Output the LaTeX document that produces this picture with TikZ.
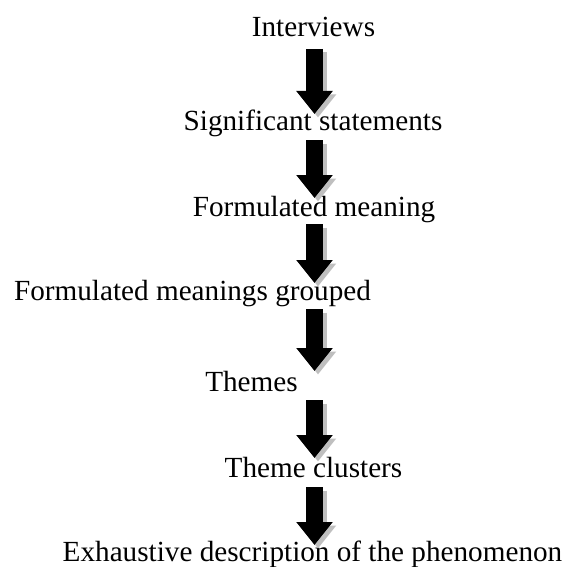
\documentclass[tikz,border=0pt]{standalone}
\usepackage{fontspec}
\setmainfont{Liberation Serif}
\usetikzlibrary{arrows.meta}
\tikzset{
  stage/.style={anchor=base, inner sep=0pt, font=\fontsize{29.2}{34}\selectfont},
  flowarrow/.style={line width=17pt, line cap=butt,
    -{Triangle[width=35pt,length=23pt]}},
  flowshadow/.style={flowarrow, draw=black!25},
}
\begin{document}
\begin{tikzpicture}[x=1pt,y=-1pt]
  \useasboundingbox (0,0) rectangle (565,567);
  % stage labels, positioned by baseline
  \node[stage] (t1) at (313.5,37)  {Interviews};
  \node[stage] (t2) at (313,131)   {Significant statements};
  \node[stage] (t3) at (314,216)   {Formulated meaning};
  \node[stage] (t4) at (192.5,300) {Formulated meanings grouped};
  \node[stage] (t5) at (251.5,391) {Themes};
  \node[stage] (t6) at (313.5,477) {Theme clusters};
  \node[stage] (t7) at (312.5,561) {Exhaustive description of the phenomenon};
  % arrow end points
  \foreach \i/\top/\tip in {1/49/114, 2/140/198, 3/224/283, 4/309/371, 5/400/458, 6/487/545}{
    \coordinate (a\i s) at (314.5,\top);
    \coordinate (a\i e) at (314.5,\tip);
  }
  % block arrows with a soft drop shadow
  \foreach \i in {1,...,6}{
    \draw[flowshadow] ([xshift=3.5pt,yshift=-3.5pt]a\i s) -- ([xshift=3.5pt,yshift=-3.5pt]a\i e);
    \draw[flowarrow] (a\i s) -- (a\i e);
  }
\end{tikzpicture}
\end{document}
